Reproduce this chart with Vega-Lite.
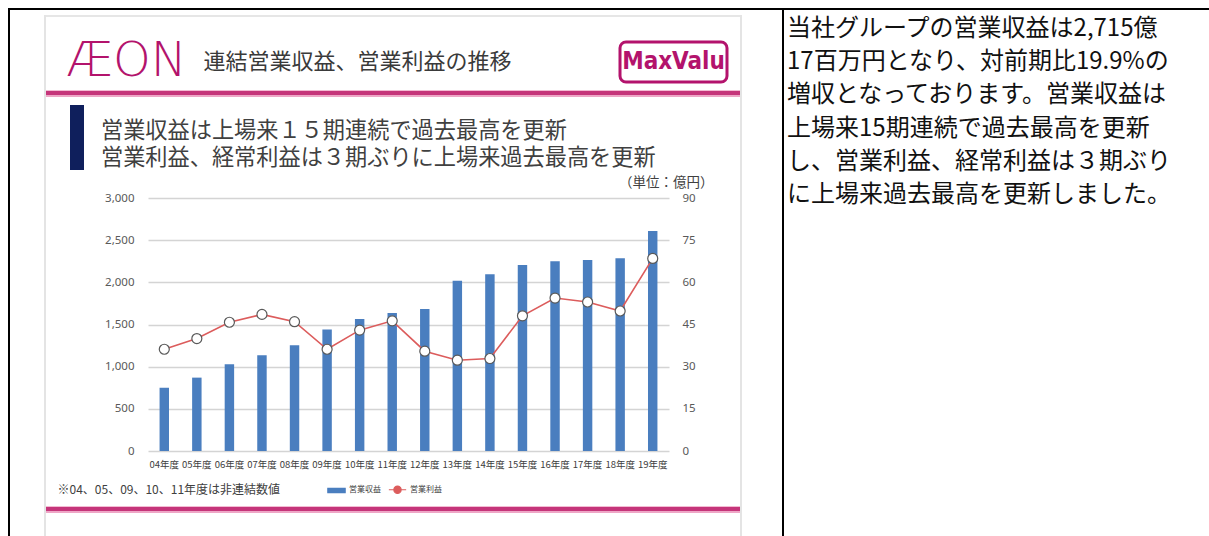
{
  "$schema": "https://vega.github.io/schema/vega-lite/v6.json",
  "padding": {"left": 8, "top": 8, "right": 0, "bottom": 0},
  "background": "white",
  "config": {
    "view": {"stroke": null},
    "font": "Noto Sans CJK JP",
    "concat": {"spacing": 0}
  },
  "spacing": 0,
  "vconcat": [
    {"width": 1201, "height": 2, "view": {"fill": "#000", "stroke": null}, "data": {"values": []}, "mark": "text", "encoding": {}},
    {"spacing": 0, "hconcat": [
      {"width": 2, "height": 526, "view": {"fill": "#000", "stroke": null}, "data": {"values": []}, "mark": "text", "encoding": {}},
      {"spacing": 0, "hconcat": [
        {"width": 34, "height": 526, "data": {"values": []}, "mark": "text", "encoding": {}},
        {"spacing": 0, "vconcat": [
          {"width": 2, "height": 5, "data": {"values": []}, "mark": "text", "encoding": {}},
          {"width": 2, "height": 521, "view": {"fill": "#e4e4e4", "stroke": null}, "data": {"values": []}, "mark": "text", "encoding": {}}
        ]},
        {"spacing": 0, "vconcat": [
          {"width": 694, "height": 5, "data": {"values": []}, "mark": "text", "encoding": {}},
          {"width": 694, "height": 2, "view": {"fill": "#e6e6e6", "stroke": null}, "data": {"values": []}, "mark": "text", "encoding": {}},
          {"spacing": 0, "vconcat": [
            {"width": 694, "height": 19, "data": {"values": []}, "mark": "text", "encoding": {}},
            {"spacing": 0, "bounds": "flush", "center": true, "hconcat": [
              {"width": 22, "height": 52, "data": {"values": []}, "mark": "text", "encoding": {}},
              {"width": 117, "height": 52, "data": {"values": [{"t": "ÆON"}]}, "mark": {"type": "text", "font": "DejaVu Sans", "fontWeight": 300, "fontSize": 48, "color": "#b3136c", "align": "center", "baseline": "middle"}, "encoding": {"text": {"field": "t"}}},
              {"width": 15, "height": 52, "data": {"values": []}, "mark": "text", "encoding": {}},
              {"width": 315, "height": 40, "data": {"values": [{"t": "連結営業収益、営業利益の推移"}]}, "mark": {"type": "text", "fontSize": 22, "color": "#3a3a3a", "align": "center", "baseline": "middle"}, "encoding": {"text": {"field": "t"}}},
              {"width": 105, "height": 52, "data": {"values": []}, "mark": "text", "encoding": {}},
              {"width": 107, "height": 40, "view": {"stroke": "#b3136c", "strokeWidth": 3, "cornerRadius": 6, "fill": "white"}, "data": {"values": [{"t": "MaxValu"}]}, "mark": {"type": "text", "font": "'Liberation Sans Narrow', 'DejaVu Sans Condensed', 'Liberation Sans', sans-serif", "fontWeight": "bold", "fontSize": 24, "color": "#b3136c", "align": "center", "baseline": "middle"}, "encoding": {"text": {"field": "t"}}},
              {"width": 13, "height": 52, "data": {"values": []}, "mark": "text", "encoding": {}}
            ]},
            {"width": 694, "height": 2, "data": {"values": []}, "mark": "text", "encoding": {}}
          ]},
          {"width": 694, "height": 1, "view": {"fill": "#f3bcd3", "stroke": null}, "data": {"values": []}, "mark": "text", "encoding": {}},
          {"width": 694, "height": 4, "view": {"fill": "#c5357a", "stroke": null}, "data": {"values": []}, "mark": "text", "encoding": {}},
          {"width": 694, "height": 2, "view": {"fill": "#eea6c6", "stroke": null}, "data": {"values": []}, "mark": "text", "encoding": {}},
          {"columns": 5, "bounds": "flush", "spacing": 0,
           "resolve": {"scale": {"color": "independent"}, "legend": {"color": "independent"}},
           "concat": [
            {"width": 24, "height": 8, "data": {"values": []}, "mark": "text", "encoding": {}},
            {"width": 14, "height": 8, "data": {"values": []}, "mark": "text", "encoding": {}},
            {"width": 64, "height": 8, "data": {"values": []}, "mark": "text", "encoding": {}},
            {"width": 521, "height": 8, "data": {"values": []}, "mark": "text", "encoding": {}},
            {"width": 71, "height": 8, "data": {"values": []}, "mark": "text", "encoding": {}},

            {"width": 24, "height": 65, "data": {"values": []}, "mark": "text", "encoding": {}},
            {"width": 14, "height": 65, "view": {"fill": "#0f1f5c", "stroke": null}, "data": {"values": []}, "mark": "text", "encoding": {}},
            {"width": 64, "height": 65, "data": {"values": []}, "mark": "text", "encoding": {}},
            {"width": 521, "height": 65, "data": {"values": []}, "mark": "text", "encoding": {}},
            {"width": 71, "height": 65, "data": {"values": []}, "mark": "text", "encoding": {}},

            {"width": 24, "height": 28, "data": {"values": []}, "mark": "text", "encoding": {}},
            {"width": 14, "height": 28, "data": {"values": []}, "mark": "text", "encoding": {}},
            {"width": 64, "height": 28, "data": {"values": []}, "mark": "text", "encoding": {}},
            {"width": 521, "height": 28, "data": {"values": []}, "mark": "text", "encoding": {}},
            {"width": 71, "height": 28, "data": {"values": []}, "mark": "text", "encoding": {}},

            {"width": 24, "height": 253, "data": {"values": []}, "mark": "text", "encoding": {}},
            {"width": 14, "height": 253, "data": {"values": []}, "mark": "text", "encoding": {}},
            {"width": 64, "height": 253, "data": {"values": []}, "mark": "text", "encoding": {}},
            {
              "width": 521, "height": 253,
              "data": {"values": [
                {"year": "04年度", "revenue": 750, "profit": 36.2},
                {"year": "05年度", "revenue": 870, "profit": 40.0},
                {"year": "06年度", "revenue": 1030, "profit": 45.8},
                {"year": "07年度", "revenue": 1135, "profit": 48.6},
                {"year": "08年度", "revenue": 1255, "profit": 46.0},
                {"year": "09年度", "revenue": 1440, "profit": 36.2},
                {"year": "10年度", "revenue": 1565, "profit": 43.0},
                {"year": "11年度", "revenue": 1635, "profit": 46.3},
                {"year": "12年度", "revenue": 1685, "profit": 35.5},
                {"year": "13年度", "revenue": 2020, "profit": 32.3},
                {"year": "14年度", "revenue": 2095, "profit": 32.9},
                {"year": "15年度", "revenue": 2205, "profit": 48.1},
                {"year": "16年度", "revenue": 2250, "profit": 54.4},
                {"year": "17年度", "revenue": 2265, "profit": 53.0},
                {"year": "18年度", "revenue": 2285, "profit": 49.8},
                {"year": "19年度", "revenue": 2610, "profit": 68.5}
              ]},
              "title": {
                "text": ["営業収益は上場来１５期連続で過去最高を更新", "営業利益、経常利益は３期ぶりに上場来過去最高を更新"],
                "anchor": "start", "frame": "group", "dx": -47, "offset": 6,
                "fontSize": 22.2, "fontWeight": "normal", "color": "#404040", "lineHeight": 27
              },
              "encoding": {
                "x": {
                  "field": "year", "type": "ordinal", "sort": null,
                  "scale": {"paddingInner": 0.71, "paddingOuter": 0.355},
                  "axis": {
                    "title": "※04、05、09、10、11年度は非連結数値",
                    "titleX": -91, "titleY": 38, "titleAlign": "left", "titleBaseline": "middle",
                    "titleFontSize": 12, "titleFontWeight": "normal", "titleColor": "#404040",
                    "labelAngle": 0, "labelFontSize": 9.5, "labelColor": "#404040", "labelPadding": 8,
                    "labelOverlap": false, "ticks": false, "tickSize": 0, "domain": false
                  }
                }
              },
              "layer": [
                {
                  "mark": {"type": "bar"},
                  "encoding": {
                    "y": {
                      "field": "revenue", "type": "quantitative",
                      "scale": {"domain": [0, 3000], "nice": false},
                      "axis": {
                        "title": null, "values": [0, 500, 1000, 1500, 2000, 2500, 3000], "format": ",.0f",
                        "domain": false, "ticks": false, "tickSize": 0, "labelPadding": 14,
                        "labelFont": "Noto Sans", "labelFontSize": 11.5, "labelColor": "#595959",
                        "grid": true, "gridColor": "#d4d4d4", "gridWidth": 1.5
                      }
                    },
                    "color": {
                      "datum": "営業収益",
                      "scale": {"domain": ["営業収益", "営業利益"], "range": ["#4a7ebf", "#dc5c5c"]},
                      "legend": {
                        "title": null, "orient": "none", "legendX": 179, "legendY": 282,
                        "direction": "horizontal", "labelFontSize": 8, "labelColor": "#404040",
                        "symbolSize": 300, "columnPadding": 5, "labelOffset": 3, "symbolStrokeWidth": 1.2,
                        "encode": {"symbols": {"update": {
                          "shape": {"signal": "datum.value === '営業収益' ? 'M-1,-0.25H1V0.25H-1Z' : 'M-1,0H-0.42M0.42,0H1M-0.42,0A0.42,0.42 0 1,1 0.42,0A0.42,0.42 0 1,1 -0.42,0Z'"},
                          "fill": {"signal": "datum.value === '営業収益' ? '#4a7ebf' : '#ffffff'"},
                          "stroke": {"signal": "datum.value === '営業収益' ? '#4a7ebf' : '#dc5c5c'"},
                          "opacity": {"value": 1}, "fillOpacity": {"value": 1}, "strokeOpacity": {"value": 1}
                        }}}
                      }
                    }
                  }
                },
                {
                  "encoding": {
                    "y": {
                      "field": "profit", "type": "quantitative",
                      "scale": {"domain": [0, 90], "nice": false},
                      "axis": {
                        "orient": "right", "values": [0, 15, 30, 45, 60, 75, 90],
                        "title": "（単位：億円）", "titleAngle": 0, "titleAlign": "right", "titleBaseline": "middle",
                        "titleX": 44, "titleY": -16, "titleFontSize": 13.5, "titleFontWeight": "normal", "titleColor": "#404040",
                        "domain": false, "ticks": false, "tickSize": 0, "labelPadding": 13,
                        "labelFont": "Noto Sans", "labelFontSize": 11.5, "labelColor": "#595959", "grid": false
                      }
                    }
                  },
                  "layer": [
                    {"mark": {"type": "line", "strokeWidth": 1.6}, "encoding": {"color": {"datum": "営業利益"}}},
                    {"mark": {"type": "point", "filled": true, "fill": "#ffffff", "stroke": "#595959", "strokeWidth": 1.2, "size": 100, "opacity": 1}}
                  ]
                }
              ],
              "resolve": {"scale": {"y": "independent"}}
            },
            {"width": 71, "height": 253, "data": {"values": []}, "mark": "text", "encoding": {}},

            {"width": 24, "height": 55, "data": {"values": []}, "mark": "text", "encoding": {}},
            {"width": 14, "height": 55, "data": {"values": []}, "mark": "text", "encoding": {}},
            {"width": 64, "height": 55, "data": {"values": []}, "mark": "text", "encoding": {}},
            {"width": 521, "height": 55, "data": {"values": []}, "mark": "text", "encoding": {}},
            {"width": 71, "height": 55, "data": {"values": []}, "mark": "text", "encoding": {}}
          ]},
          {"width": 694, "height": 1, "view": {"fill": "#f3bcd3", "stroke": null}, "data": {"values": []}, "mark": "text", "encoding": {}},
          {"width": 694, "height": 4, "view": {"fill": "#c5357a", "stroke": null}, "data": {"values": []}, "mark": "text", "encoding": {}},
          {"width": 694, "height": 2, "view": {"fill": "#eea6c6", "stroke": null}, "data": {"values": []}, "mark": "text", "encoding": {}},
          {"width": 694, "height": 23, "data": {"values": []}, "mark": "text", "encoding": {}}
        ]},
        {"spacing": 0, "vconcat": [
          {"width": 2, "height": 5, "data": {"values": []}, "mark": "text", "encoding": {}},
          {"width": 2, "height": 521, "view": {"fill": "#e4e4e4", "stroke": null}, "data": {"values": []}, "mark": "text", "encoding": {}}
        ]},
        {"width": 40, "height": 526, "data": {"values": []}, "mark": "text", "encoding": {}}
      ]},
      {"width": 2, "height": 526, "view": {"fill": "#000", "stroke": null}, "data": {"values": []}, "mark": "text", "encoding": {}},
      {"spacing": 0, "hconcat": [
        {"width": 3, "height": 526, "data": {"values": []}, "mark": "text", "encoding": {}},
        {"spacing": 0, "vconcat": [
          {"width": 422, "height": 2, "data": {"values": []}, "mark": "text", "encoding": {}},
          {
            "width": 422, "height": 200,
            "data": {"values": [
              {"n": 1, "c": "本文", "t": "　当社グループの営業収益は2,715億"},
              {"n": 2, "c": "本文", "t": "17百万円となり、対前期比19.9%の"},
              {"n": 3, "c": "本文", "t": "増収となっております。営業収益は"},
              {"n": 4, "c": "本文", "t": "上場来15期連続で過去最高を更新"},
              {"n": 5, "c": "本文", "t": "し、営業利益、経常利益は３期ぶり"},
              {"n": 6, "c": "本文", "t": "に上場来過去最高を更新しました。"}
            ]},
            "mark": {"type": "text", "align": "left", "baseline": "middle", "fontSize": 24, "color": "#111111"},
            "encoding": {
              "x": {"field": "c", "type": "nominal", "axis": null, "scale": {"type": "point", "padding": 0, "align": 0}},
              "y": {"field": "n", "type": "ordinal", "axis": null, "scale": {"paddingInner": 0, "paddingOuter": 0}},
              "text": {"field": "t"}
            }
          },
          {"width": 422, "height": 324, "data": {"values": []}, "mark": "text", "encoding": {}}
        ]}
      ]}
    ]}
  ]
}
